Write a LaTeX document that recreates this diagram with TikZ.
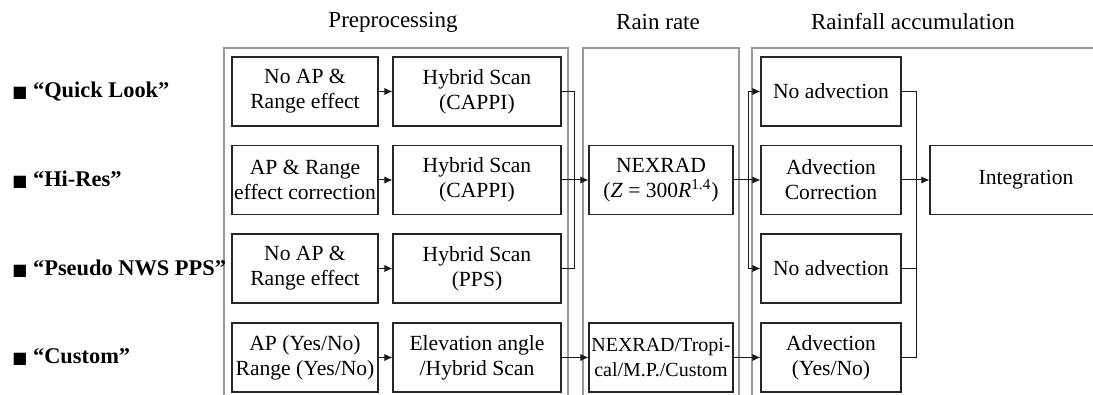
\documentclass[tikz,border=0pt]{standalone}
\usepackage{fontspec}
\setmainfont{Liberation Serif}
\newfontfamily\symfont{DejaVu Sans}
\usetikzlibrary{arrows.meta,positioning,calc}

\begin{document}
\begin{tikzpicture}[x=0.5pt,y=-0.5pt,
    box/.style={draw=black!85, line width=0.55pt, align=center, inner sep=0pt,
        minimum height=34.5pt, font=\fontsize{10.8}{12.6}\selectfont},
    panel/.style={draw=black!40, line width=0.6pt},
    link/.style={draw=black!90, line width=0.5pt},
    arr/.style={link, -{Latex[length=4pt,width=3.6pt]}},
    mode/.style={anchor=west, inner sep=0pt, font=\fontsize{11.2}{13}\selectfont\bfseries},
    head/.style={font=\fontsize{11.5}{13}\selectfont}]

    \useasboundingbox (0,0) rectangle (1093,395);

    % Panels (open at the bottom)
    \draw[panel] (224,400) -- (224,48) -- (568,48) -- (568,400);
    \draw[panel] (583,400) -- (583,48) -- (739,48) -- (739,400);
    \draw[panel] (752,400) -- (752,48) -- (1100,48);
    \node[head] (hpre) at (393,22) {Preprocessing};
    \node[head] (hrate) at (658,22) {Rain rate};
    \node[head] (hacc) at (913,22) {Rainfall accumulation};

    % Modes
    \node[mode] (m1) at (12,92) {{\symfont\fontsize{8}{10}\selectfont ■} “Quick Look”};
    \node[mode] (m2) at (12,180) {{\symfont\fontsize{8}{10}\selectfont ■} “Hi-Res”};
    \node[mode] (m3) at (12,269) {{\symfont\fontsize{8}{10}\selectfont ■} “Pseudo NWS PPS”};
    \node[mode] (m4) at (12,357) {{\symfont\fontsize{8}{10}\selectfont ■} “Custom”};

    % Preprocessing
    \node[box, minimum width=73pt] (a1) at (305,91.5) {No AP \&\\Range effect};
    \node[box, minimum width=73pt] (a2) at (305,180) {AP \& Range\\effect correction};
    \node[box, minimum width=73pt] (a3) at (305,268.5) {No AP \&\\Range effect};
    \node[box, minimum width=73pt] (a4) at (305,357.5) {AP (Yes/No)\\Range (Yes/No)};
    \node[box, minimum width=84pt] (b1) at (477,91.5) {Hybrid Scan\\(CAPPI)};
    \node[box, minimum width=84pt] (b2) at (477,180) {Hybrid Scan\\(CAPPI)};
    \node[box, minimum width=84pt] (b3) at (477,268.5) {Hybrid Scan\\(PPS)};
    \node[box, minimum width=84pt] (b4) at (477,357.5) {Elevation angle\\/Hybrid Scan};

    % Rain rate
    \node[box, minimum width=72pt] (r2) at (661,180) {NEXRAD\\(\textit{Z} = 300\textit{R}\textsuperscript{1.4})};
    \node[box, minimum width=72pt, font=\fontsize{10}{12.6}\selectfont] (r4) at (661,357.5) {NEXRAD/Tropi-\\cal/M.P./Custom};

    % Rainfall accumulation
    \node[box, minimum width=70pt] (c1) at (831,91.5) {No advection};
    \node[box, minimum width=70pt] (c2) at (831,180) {Advection\\Correction};
    \node[box, minimum width=70pt] (c3) at (831,268.5) {No advection};
    \node[box, minimum width=70pt] (c4) at (831,357.5) {Advection\\(Yes/No)};
    \node[box, minimum width=96pt] (int) at (1026,180) {Integration};

    % Connectors
    \coordinate (j1) at (574,180);
    \coordinate (j2) at (748,180);
    \coordinate (j3) at (916,180);
    \foreach \i in {1,...,4} {
        \draw[arr] (a\i) -- (b\i);
    }
    \draw[link] (b1.east) -| (j1);
    \draw[link] (b3.east) -| (j1);
    \draw[arr] (b2) -- (r2);
    \draw[arr] (b4) -- (r4);
    \draw[arr] (j2) |- (c1.west);
    \draw[arr] (j2) |- (c3.west);
    \draw[arr] (r2) -- (c2);
    \draw[arr] (r4) -- (c4);
    \draw[link] (c1.east) -| (j3);
    \draw[link] (c3.east) -| (j3);
    \draw[link] (c4.east) -| (j3);
    \draw[arr] (c2) -- (int);
\end{tikzpicture}
\end{document}
